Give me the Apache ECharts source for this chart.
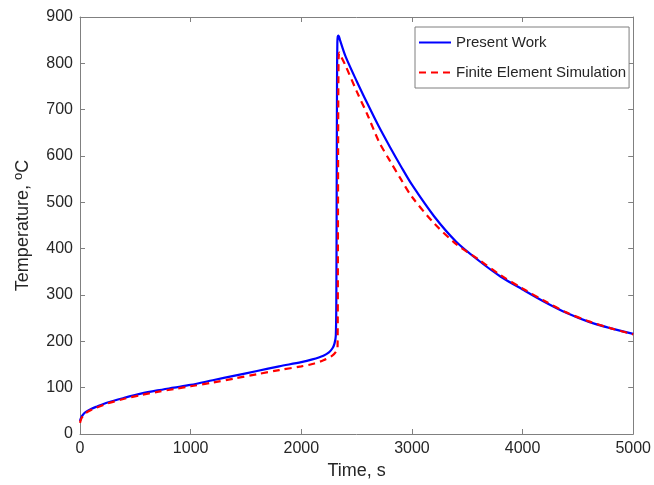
<!DOCTYPE html>
<html>
<head>
<meta charset="utf-8">
<script src="https://cdn.jsdelivr.net/npm/echarts@6/dist/echarts.min.js"></script>
<style>html,body{margin:0;padding:0;background:#fff}#c{width:654px;height:485px}</style>
</head>
<body>
<div id="c"></div>
<script>
// Present Work (blue solid)
var blueTime = [0, 10, 25, 50, 100, 150, 250, 400, 550, 700, 850, 1000, 1200, 1400, 1600, 1800, 2000, 2100, 2200, 2250, 2282, 2300, 2312, 2317, 2320, 2323, 2326, 2330, 2336, 2350, 2400, 2500, 2600, 2700, 2800, 2900, 3000, 3200, 3400, 3600, 3800, 4000, 4200, 4400, 4600, 4800, 5000];
var blueTemp = [28, 35, 41, 47, 54, 59, 68, 78, 87, 94, 100, 106, 116, 126, 136, 146, 155, 161, 169, 176, 185, 195, 212, 300, 520, 760, 845, 858, 860, 850, 815, 762, 712, 664, 620, 578, 538, 470, 415, 375, 340, 312, 285, 261, 242, 228, 216];
// Finite Element Simulation (red dashed)
var redTime = [0, 10, 25, 50, 100, 150, 250, 400, 550, 700, 850, 1000, 1200, 1400, 1600, 1800, 2000, 2100, 2200, 2280, 2320, 2328, 2331, 2334, 2337, 2340, 2346, 2360, 2400, 2500, 2600, 2700, 2800, 2900, 3000, 3200, 3400, 3600, 3800, 4000, 4200, 4400, 4600, 4800, 5000];
var redTemp = [24, 32, 38, 45, 52, 57, 66, 76, 84, 91, 97, 103, 111, 120, 129, 138, 146, 151, 159, 169, 180, 190, 400, 700, 805, 820, 823, 815, 795, 740, 688, 632, 590, 550, 512, 455, 410, 377, 343, 314, 287, 262, 243, 228, 215];
var xTicks = [0, 1000, 2000, 3000, 4000, 5000];
var yTicks = [0, 100, 200, 300, 400, 500, 600, 700, 800, 900];
var seriesNames = ['Present Work', 'Finite Element Simulation'];

function pairs(t, v) { return t.map(function (x, i) { return [x, v[i]]; }); }

var FONT = 'Liberation Sans, Arial, Helvetica, sans-serif';
var axisCol = '#808080';
var txtCol = '#262626';

var chart = echarts.init(document.getElementById('c'), null, {renderer: 'canvas'});
chart.setOption({
  animation: false,
  backgroundColor: '#fff',
  grid: {left: 80, top: 17, right: 19, bottom: 45},
  legend: {
    data: seriesNames,
    orient: 'vertical',
    left: 415, top: 27,
    padding: [8, 3, 8, 3],
    itemWidth: 32, itemHeight: 14, itemGap: 15,
    borderColor: '#7f7f7f', borderWidth: 1,
    backgroundColor: '#fff',
    itemStyle: {opacity: 0},
    textStyle: {fontFamily: FONT, fontSize: 15, color: txtCol}
  },
  xAxis: [{
    type: 'value', min: xTicks[0], max: xTicks[xTicks.length - 1], interval: 1000,
    name: 'Time, s', nameLocation: 'middle', nameGap: 28,
    nameTextStyle: {fontFamily: FONT, fontSize: 18, color: txtCol},
    axisLine: {show: true, lineStyle: {color: axisCol, width: 1}},
    axisTick: {show: true, inside: true, length: 5, lineStyle: {color: axisCol}},
    axisLabel: {fontFamily: FONT, fontSize: 16, color: txtCol, margin: 7,
      formatter: function (v) { return String(v); }},
    splitLine: {show: false}
  }, {
    type: 'value', position: 'top', min: 0, max: 5000, interval: 1000,
    axisLine: {show: true, onZero: false, lineStyle: {color: axisCol, width: 1}},
    axisTick: {show: true, inside: true, length: 5, lineStyle: {color: axisCol}},
    axisLabel: {show: false}, splitLine: {show: false}
  }],
  yAxis: [{
    type: 'value', min: yTicks[0], max: yTicks[yTicks.length - 1], interval: 100,
    name: 'Temperature, {sup|o}C', nameLocation: 'middle', nameGap: 46,
    nameTextStyle: {fontFamily: FONT, fontSize: 18, color: txtCol,
      rich: {sup: {fontFamily: FONT, fontSize: 13, color: txtCol, padding: [0, 0, 9, 0]}}},
    axisLine: {show: true, lineStyle: {color: axisCol, width: 1}},
    axisTick: {show: true, inside: true, length: 5, lineStyle: {color: axisCol}},
    axisLabel: {fontFamily: FONT, fontSize: 16, color: txtCol, margin: 7},
    splitLine: {show: false}
  }, {
    type: 'value', position: 'right', min: 0, max: 900, interval: 100,
    axisLine: {show: true, onZero: false, lineStyle: {color: axisCol, width: 1}},
    axisTick: {show: true, inside: true, length: 5, lineStyle: {color: axisCol}},
    axisLabel: {show: false}, splitLine: {show: false}
  }],
  series: [{
    name: seriesNames[0], type: 'line', data: pairs(blueTime, blueTemp),
    symbol: 'none', smooth: 0.3, color: '#0000ff',
    lineStyle: {color: '#0000ff', width: 2.2}
  }, {
    name: seriesNames[1], type: 'line', data: pairs(redTime, redTemp),
    symbol: 'none', smooth: 0.3, color: '#ff0000',
    lineStyle: {color: '#ff0000', width: 2.2, type: [7, 5]}
  }]
});
</script>
</body>
</html>
